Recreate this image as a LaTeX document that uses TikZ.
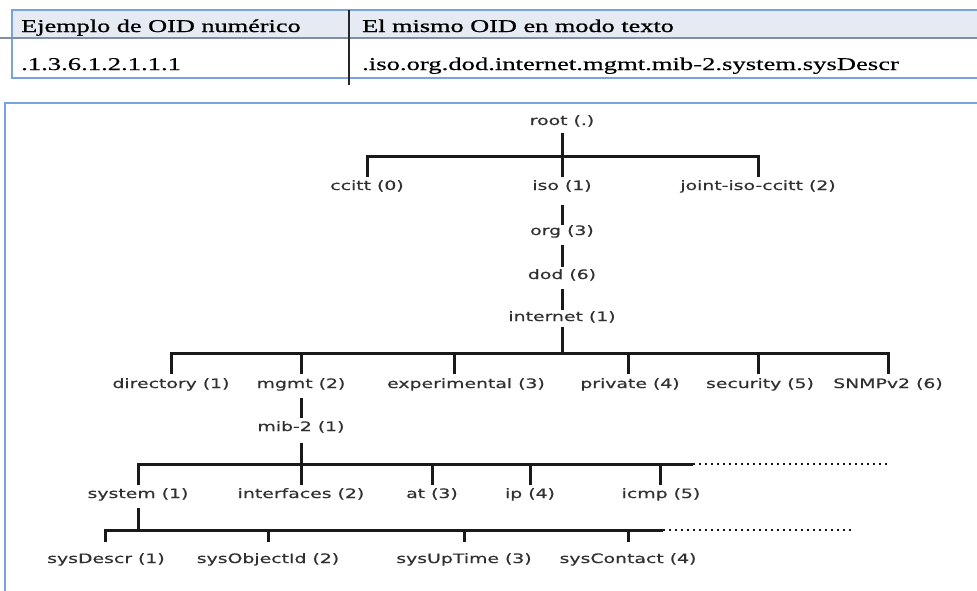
\documentclass[tikz,border=0pt]{standalone}
\usepackage{fontspec}
\setmainfont{Liberation Serif}
\newfontfamily\tabfont[FakeStretch=1.48,FakeBold=0.4]{Liberation Serif}
\newfontfamily\tabheadfont[FakeStretch=1.46,FakeBold=1.0]{Liberation Serif}
\newfontfamily\treefont[FakeStretch=1.45,FakeBold=0.4]{DejaVu Sans}

\definecolor{frameblue}{HTML}{79A3DC}
\definecolor{headfill}{HTML}{E6EBF3}
\definecolor{sepgray}{HTML}{7F8FA6}
\definecolor{labelgray}{HTML}{303030}

\begin{document}
\begin{tikzpicture}[x=1pt,y=-1pt,
  tabtxt/.style={font=\tabfont\fontsize{18}{20}\selectfont, inner sep=0pt, anchor=base west},
  tabhead/.style={font=\tabheadfont\fontsize{18}{20}\selectfont, inner sep=0pt, anchor=base west},
  lbl/.style={font=\treefont\fontsize{13}{15}\selectfont, text=labelgray, inner sep=0pt,
              anchor=base, text height=10pt, text depth=3pt},
  branch/.style={line width=3pt, black!90, line join=miter},
  trail/.style={line width=2.2pt, black!90, dash pattern=on 2pt off 4pt},
  frame/.style={line width=2.4pt, frameblue}]

\useasboundingbox (0,0) rectangle (977,590);
\clip (0,0) rectangle (977,590);
\fill[white] (0,0) rectangle (977,590);

% ---- table of OID notations ----
\fill[headfill] (12,10) rectangle (990,38);
\draw[frame] (12,10) rectangle (990,78);
\draw[line width=1.8pt, sepgray] (0,38) -- (990,38);
\draw[line width=1.8pt, black!85] (349,10) -- (349,85);

\node[tabhead] (h1) at (21,32) {Ejemplo de OID numérico};
\node[tabhead] (h2) at (362,32) {El mismo OID en modo texto};
\node[tabtxt] (r1) at (21,70) {.1.3.6.1.2.1.1.1};
\node[tabtxt] (r2) at (362,70) {.iso.org.dod.internet.mgmt.mib-2.system.sysDescr};

% ---- OID tree ----
\draw[frame, line width=2.8pt] (5,103) rectangle (990,600);

\node[lbl] (root) at (562,125) {root (.)};
\node[lbl] (ccitt) at (367,190) {ccitt (0)};
\node[lbl] (iso) at (562,190) {iso (1)};
\node[lbl] (joint) at (758,190) {joint-iso-ccitt (2)};
\node[lbl] (org) at (562,235) {org (3)};
\node[lbl] (dod) at (562,279) {dod (6)};
\node[lbl] (internet) at (562,321) {internet (1)};

\node[lbl] (directory) at (171,388) {directory (1)};
\node[lbl] (mgmt) at (301,388) {mgmt (2)};
\node[lbl] (experimental) at (466,388) {experimental (3)};
\node[lbl] (private) at (630,388) {private (4)};
\node[lbl] (security) at (760,388) {security (5)};
\node[lbl] (snmp) at (888,388) {SNMPv2 (6)};

\node[lbl] (mib) at (301,431) {mib-2 (1)};

\node[lbl] (system) at (138,498) {system (1)};
\node[lbl] (interfaces) at (301,498) {interfaces (2)};
\node[lbl] (at) at (432,498) {at (3)};
\node[lbl] (ip) at (530,498) {ip (4)};
\node[lbl] (icmp) at (661,498) {icmp (5)};

\node[lbl] (sysdescr) at (106,563) {sysDescr (1)};
\node[lbl] (sysobj) at (268,563) {sysObjectId (2)};
\node[lbl] (sysup) at (464,563) {sysUpTime (3)};
\node[lbl] (syscontact) at (628,563) {sysContact (4)};

% bus heights
\coordinate (busA) at (0,156);
\coordinate (busB) at (0,353);
\coordinate (busC) at (0,464);
\coordinate (busD) at (0,530);
\coordinate (busCend) at (693,464);
\coordinate (busCdots) at (887,464);
\coordinate (busDend) at (663,530);
\coordinate (busDdots) at (853,530);

% root level
\draw[branch] ([yshift=3pt]ccitt.north) |- (joint.north |- busA) -- ([yshift=3pt]joint.north);
\draw[branch] ([yshift=-5pt]root.south) -- ([yshift=3pt]iso.north);

% single chain
\draw[branch] ([yshift=-12pt]iso.south) -- (org.north);
\draw[branch] ([yshift=-7pt]org.south) -- ([yshift=2pt]dod.north);
\draw[branch] ([yshift=-7pt]dod.south) -- ([yshift=1pt]internet.north);

% internet children
\draw[branch] ([yshift=-3pt]internet.south) -- (internet.south |- busB);
\draw[branch] ([yshift=4pt]directory.north) |- (snmp.north |- busB) -- ([yshift=4pt]snmp.north);
\draw[branch] (mgmt.north |- busB) -- ([yshift=4pt]mgmt.north);
\draw[branch] ([xshift=-12pt]experimental.north |- busB) -- ([xshift=-12pt,yshift=4pt]experimental.north);
\draw[branch] ([xshift=-2pt]private.north |- busB) -- ([xshift=-2pt,yshift=4pt]private.north);
\draw[branch] ([xshift=-2pt]security.north |- busB) -- ([xshift=-2pt,yshift=4pt]security.north);

% mgmt to mib-2
\draw[branch] ([yshift=-7pt]mgmt.south) -- ([yshift=3pt]mib.north);

% mib-2 children
\draw[branch] ([yshift=-9pt]mib.south) -- (mib.south |- busC);
\draw[branch] ([yshift=3pt]system.north) |- (busCend);
\draw[trail] (busCend) -- (busCdots);
\draw[branch] (interfaces.north |- busC) -- ([yshift=3pt]interfaces.north);
\draw[branch] (at.north |- busC) -- ([yshift=3pt]at.north);
\draw[branch] (ip.north |- busC) -- ([yshift=3pt]ip.north);
\draw[branch] ([xshift=-1pt]icmp.north |- busC) -- ([xshift=-1pt,yshift=3pt]icmp.north);

% system children
\draw[branch] ([yshift=-7pt]system.south) -- (system.south |- busD);
\draw[branch] ([xshift=-1pt,yshift=11pt]sysdescr.north) |- (busDend);
\draw[trail] (busDend) -- (busDdots);
\draw[branch] (sysobj.north |- busD) -- ([yshift=11pt]sysobj.north);
\draw[branch] (sysup.north |- busD) -- ([yshift=11pt]sysup.north);
\draw[branch] (syscontact.north |- busD) -- ([yshift=11pt]syscontact.north);

\end{tikzpicture}
\end{document}
